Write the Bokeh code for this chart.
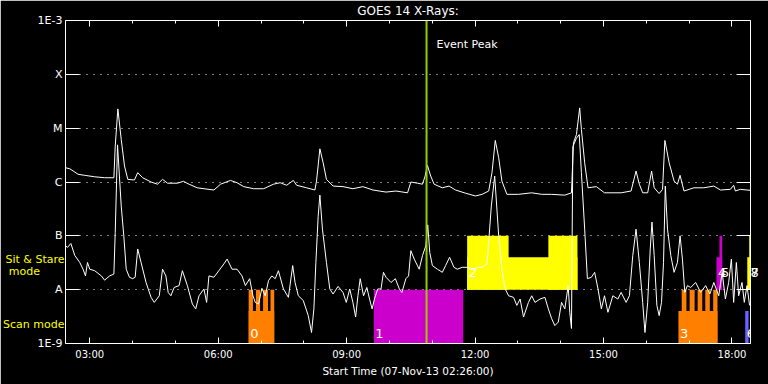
from bokeh.plotting import figure
from bokeh.models import (FixedTicker, LinearAxis, LogAxis, Label, Span,
                          ColumnDataSource, Range1d)
from bokeh.embed import file_html
from bokeh.resources import INLINE
from bokeh.core.properties import value

# ---------------- data ----------------
title_text = "GOES 14 X-Rays:"
x_title = "Start Time (07-Nov-13 02:26:00)"

# minutes after 02:26:00, flux in W/m^2 (1-8 A channel)
t_long = [0, 6.1, 17.7, 27.0, 40.9, 54.8, 67.8, 69.7, 73.4, 78.1, 82.7, 87.3, 96.6, 101.2,
          108.2, 119.9, 129.0, 136.0, 143.0, 156.9, 165.2, 173.2, 184.7, 194.0, 208.0,
          217.3, 231.2, 240.4, 249.7, 263.6, 277.6, 291.5, 300.8, 310.0, 319.3, 323.9,
          337.8, 349.5, 351.8, 356.5, 361.1, 365.7, 375.0, 388.9, 402.8, 416.8, 430.7,
          449.2, 463.1, 479.4, 484.0, 493.3, 500.3, 504.0, 507.2, 511.8, 516.6, 528.1,
          537.5, 546.6, 560.6, 574.5, 583.8, 593.1, 597.7, 602.3, 607.1, 611.6, 618.6,
          634.9, 653.4, 667.4, 681.3, 699.8, 709.1, 711.9, 716.1, 720.6, 723.0, 727.6,
          732.3, 743.9, 755.4, 778.7, 792.6, 799.6, 804.2, 808.9, 815.9, 821.4, 825.0,
          832.0, 836.7, 840.0, 846.0, 852.9, 857.6, 861.3, 866.8, 880.7, 894.6, 908.6,
          917.9, 931.8, 936.4, 938.8, 945.7, 959.7]
flux_long = [1.84e-6, 1.76e-6, 1.39e-6, 1.33e-6, 1.25e-6, 1.20e-6, 1.20e-6, 4.64e-6, 2.28e-5,
             6.18e-6, 1.98e-6, 1.12e-6, 1.09e-6, 1.49e-6, 1.20e-6, 1.00e-6, 9.1e-7, 1.12e-6,
             9.5e-7, 9.5e-7, 1.03e-6, 9.1e-7, 7.8e-7, 7.5e-7, 7.1e-7, 9.1e-7, 1.07e-6, 9.7e-7,
             8.2e-7, 7.5e-7, 7.5e-7, 9.1e-7, 9.7e-7, 8.7e-7, 1.07e-6, 8.7e-7, 7.8e-7, 7.1e-7,
             1.04e-6, 4.14e-6, 2.27e-6, 1.12e-6, 8.4e-7, 8.2e-7, 7.5e-7, 8.2e-7, 7.1e-7, 6.5e-7,
             6.8e-7, 6.3e-7, 1.0e-6, 9.5e-7, 9.1e-7, 1.29e-6, 2.04e-6, 1.29e-6, 9.1e-7, 7.8e-7,
             8.4e-7, 7.1e-7, 6.2e-7, 5.5e-7, 5.9e-7, 6.8e-7, 1.49e-6, 5.91e-6, 2.82e-6, 1.04e-6,
             5.9e-7, 5.9e-7, 6.3e-7, 5.9e-7, 5.9e-7, 5.7e-7, 6.3e-7, 5.35e-6, 7.64e-6, 2.38e-5,
             9.46e-6, 2.27e-6, 7.8e-7, 8.2e-7, 6.3e-7, 6.3e-7, 6.8e-7, 1.6e-6, 9.1e-7, 6.3e-7,
             6.3e-7, 1.6e-6, 7.8e-7, 6.1e-7, 7.3e-7, 5.91e-6, 2.27e-6, 1.04e-6, 9.1e-7, 1.33e-6,
             6.8e-7, 7.8e-7, 7.8e-7, 8.4e-7, 7.1e-7, 7.3e-7, 8.7e-7, 6.8e-7, 7.3e-7, 7.0e-7]

# minutes after 02:26:00, flux in W/m^2 (0.5-4 A channel)
t_short = [0, 2.9, 7.5, 13.1, 20.0, 24.6, 28.0, 30.8, 34.0, 40.9, 50.3, 54.8, 61.8, 67.8,
           69.7, 72.9, 78.1, 81.7, 85.1, 89.6, 94.2, 97.6, 101.2, 105.9, 112.9, 119.9, 124.4,
           131.4, 136.0, 140.7, 143.9, 147.7, 152.3, 159.2, 163.8, 170.8, 177.8, 182.5, 187.1,
           194.0, 197.8, 201.0, 208.0, 214.9, 221.9, 226.5, 233.4, 240.4, 247.4, 252.1, 258.1,
           262.7, 266.0, 270.6, 275.2, 279.9, 284.5, 289.1, 293.9, 298.4, 305.4, 312.4, 318.4,
           321.7, 326.3, 333.2, 340.2, 344.8, 348.1, 350.9, 354.1, 356.5, 360.1, 365.7, 370.4,
           375.0, 382.0, 388.9, 393.5, 398.3, 402.8, 406.6, 409.8, 413.0, 417.7, 422.3, 426.1,
           429.7, 433.0, 437.6, 442.2, 445.6, 449.2, 456.2, 462.3, 467.9, 471.5, 477.0, 480.8,
           484.0, 488.7, 495.7, 500.3, 504.9, 507.7, 510.5, 514.2, 521.2, 528.1, 532.7, 538.3,
           544.4, 549.0, 556.0, 562.9, 569.9, 579.2, 583.8, 590.8, 596.8, 601.5, 607.1, 611.6,
           616.2, 621.0, 627.9, 632.5, 637.1, 641.9, 648.8, 653.4, 658.0, 665.0, 671.9, 676.7,
           681.3, 685.8, 690.6, 695.2, 699.8, 704.5, 706.7, 709.1, 711.0, 716.0, 720.0, 723.0,
           727.6, 731.4, 737.0, 741.6, 746.3, 751.0, 755.4, 760.2, 767.1, 774.1, 778.7, 785.7,
           790.3, 795.0, 799.6, 804.2, 808.9, 812.1, 815.9, 819.5, 821.9, 825.0, 828.8, 832.0,
           835.3, 838.1, 840.6, 843.7, 848.3, 852.9, 857.6, 861.3, 864.6, 867.9, 871.6, 876.2,
           883.2, 890.1, 897.1, 903.0, 908.6, 915.5, 920.3, 924.8, 929.4, 933.2, 936.4, 940.2,
           943.4, 948.1, 951.3, 955.1, 958.7]
flux_short = [6.5e-8, 6.1e-8, 7.2e-8, 4.3e-8, 3.2e-8, 2.4e-8, 1.8e-8, 3.2e-8, 2.4e-8, 2.25e-8,
              1.8e-8, 1.5e-8, 1.8e-8, 1.95e-8, 1.15e-7, 4.9e-6, 3.6e-7, 1.0e-7, 2.4e-8, 1.7e-8,
              1.6e-8, 1.7e-8, 5.7e-8, 3.2e-8, 1.36e-8, 7.2e-9, 5.8e-9, 7.7e-9, 2.4e-8, 1.8e-8,
              8.9e-9, 7.7e-9, 1.1e-8, 1.19e-8, 2.25e-8, 1.19e-8, 5.4e-9, 4.4e-9, 7.7e-9, 1.03e-8,
              5.8e-9, 1.8e-8, 1.7e-8, 2.25e-8, 3.0e-8, 3.7e-8, 2.4e-8, 2.4e-8, 1.8e-8, 1.19e-8,
              1.6e-8, 7.7e-9, 5.8e-9, 5.4e-9, 1.06e-8, 7.7e-9, 1.47e-8, 1.8e-8, 1.6e-8, 2.25e-8,
              1.03e-8, 7.2e-9, 2.8e-8, 1.36e-8, 7.7e-9, 6.3e-9, 3.3e-9, 1.6e-9, 4.4e-9, 3.2e-8,
              2.3e-7, 5.7e-7, 1.33e-7, 3.2e-8, 1.03e-8, 8.3e-9, 1.15e-8, 8.9e-9, 5.8e-9, 1.03e-8,
              5.8e-9, 3.1e-9, 7.7e-9, 1.6e-8, 7.7e-9, 1.1e-8, 6.7e-9, 4.4e-9, 6.7e-9, 1.03e-8,
              1.03e-8, 2.1e-8, 1.7e-8, 1.36e-8, 1.6e-8, 1.03e-8, 8.9e-9, 1.6e-8, 1.8e-8, 5.3e-8,
              3.7e-8, 2.4e-8, 4.3e-8, 6.5e-8, 1.6e-7, 4.9e-8, 2.8e-8, 2.4e-8, 2.1e-8, 2.8e-8,
              4.0e-8, 2.6e-8, 2.4e-8, 2.6e-8, 2.6e-8, 2.4e-8, 2.6e-8, 2.6e-8, 3.0e-8, 3.6e-7,
              1.29e-6, 1.0e-7, 2.4e-8, 1.03e-8, 7.7e-9, 7.2e-9, 5.1e-9, 6.7e-9, 3.1e-9, 5.8e-9,
              7.7e-9, 5.8e-9, 6.7e-9, 7.2e-9, 4.4e-9, 2.9e-9, 2.15e-9, 2.5e-9, 5.8e-9, 4.4e-9,
              1.19e-8, 3.8e-9, 1.9e-9, 4.5e-6, 6.5e-6, 7.6e-6, 1.49e-6, 1.33e-7, 1.6e-8, 1.7e-8,
              2.1e-8, 1.03e-8, 4.4e-9, 7.7e-9, 3.8e-9, 7.7e-9, 6.7e-9, 8.9e-9, 5.8e-9, 7.7e-9,
              4.3e-8, 1.33e-7, 3.2e-8, 5.8e-9, 1.6e-9, 5.8e-9, 5.7e-8, 1.8e-7, 4.3e-8, 5.1e-9,
              3.3e-9, 5.8e-9, 3.2e-8, 8.4e-7, 1.33e-7, 4.3e-8, 2.1e-8, 3.2e-8, 1.0e-7, 3.7e-8,
              8.9e-9, 1.19e-8, 1.1e-8, 1.36e-8, 8.9e-9, 1.19e-8, 8.3e-9, 1.36e-8, 7.7e-9, 2.1e-8,
              6.7e-9, 1.36e-8, 3.7e-8, 5.8e-9, 3.2e-8, 7.7e-9, 1.36e-8, 5.8e-9, 1.19e-8, 5.1e-9]

x_tick_min = [34, 214, 394, 574, 754, 934]
x_tick_labels = ["03:00", "06:00", "09:00", "12:00", "15:00", "18:00"]
x_minor_min = [94, 154, 274, 334, 454, 514, 634, 694, 814, 874]
y_tick_flux = [1e-9, 1e-8, 1e-7, 1e-6, 1e-5, 1e-4, 1e-3]
y_tick_labels = ["1E-9", "A", "B", "C", "M", "X", "1E-3"]
y_grid_flux = [1e-8, 1e-7, 1e-6, 1e-5, 1e-4]
event_peak_min = 506
event_label = "Event Peak"

# observation blocks (numbered), mode: scan / sit & stare
block_names = ["0", "1", "2", "3", "4", "5", "6", "7", "8"]
block_mode = ["scan", "scan", "sit", "scan", "sit", "sit", "scan", "sit", "sit"]
# segments of each block: kind "part" = lower part of the band, "full" = whole band
seg_block = [0, 0, 0, 0, 0, 1, 2, 2, 2, 3, 3, 3, 3, 3, 3, 4, 5, 6, 7, 8]
seg_start = [256.7, 256.7, 266.9, 276.9, 287.3, 432.1, 562.9, 562.9, 676.7, 859.0, 863.6,
             874.7, 885.9, 896.6, 907.7, 912.3, 916.5, 952.6, 955.5, 958.2]
seg_end = [292.5, 262.7, 272.7, 283.8, 292.5, 557.4, 717.5, 621.0, 717.5, 913.7, 870.2,
           881.7, 892.4, 903.0, 913.7, 920.3, 920.3, 957.3, 960.0, 960.0]
seg_kind = ["part", "full", "full", "full", "full", "full", "part", "full", "full", "part",
            "full", "full", "full", "full", "full", "part", "full", "part", "part", "full"]

mode_labels = ["Sit & Stare", "mode" + "\u00a0" * 7, "Scan mode"]

# ---------------- styles ----------------
FONT = "DejaVu Sans"
block_colors = ["#ff8000", "#cc00cc", "#ffff00", "#ff8000", "#cc00cc", "#cc00cc",
                "#6464ff", "#ffff00", "#ffff00"]
band = {"scan": (1e-9, 1e-8), "sit": (1e-8, 1e-7)}
label_dy = {"scan": -10, "sit": -17}
mode_label_y = [3.6e-8, 2.18e-8, 2.25e-9]
edge_label_y = 2.1e-8

p = figure(width=768, height=384, x_range=Range1d(0, 960), y_range=Range1d(1e-9, 1e-3),
           y_axis_type="log", output_backend="svg", toolbar_location=None,
           min_border_left=60, min_border_right=18, min_border_top=19, min_border_bottom=41,
           background_fill_color="black", border_fill_color="black", outline_line_color=None)

# axes
xa = p.xaxis[0]
xa.ticker = FixedTicker(ticks=x_tick_min, minor_ticks=x_minor_min)
xa.major_label_overrides = dict(zip(x_tick_min, x_tick_labels))
xa.axis_label = x_title
ya = p.yaxis[0]
ya.ticker = FixedTicker(ticks=y_tick_flux)
ya.major_label_overrides = dict(zip(y_tick_flux, y_tick_labels))

top = LinearAxis(ticker=FixedTicker(ticks=x_tick_min, minor_ticks=x_minor_min),
                 major_label_overrides={t: "" for t in x_tick_min}, axis_label=title_text)
right = LogAxis(ticker=FixedTicker(ticks=y_tick_flux),
                major_label_overrides={t: "" for t in y_tick_flux})
p.add_layout(top, "above")
p.add_layout(right, "right")

for ax in (xa, top):
    ax.major_tick_in = 6
    ax.major_tick_out = 0
    ax.minor_tick_in = 3
    ax.minor_tick_out = 0
for ax in (ya, right):
    ax.major_tick_in = 14
    ax.major_tick_out = 0
    ax.minor_tick_in = 0
    ax.minor_tick_out = 0
for ax in (xa, ya, top, right):
    ax.axis_line_color = "white"
    ax.major_tick_line_color = "white"
    ax.minor_tick_line_color = "white"
    ax.major_label_text_color = "white"
    ax.major_label_text_font = FONT
    ax.major_label_text_font_size = "11px"
    ax.axis_label_text_color = "white"
    ax.axis_label_text_font = FONT
    ax.axis_label_text_font_style = "normal"
    ax.axis_label_text_font_size = "10.5px"
xa.major_label_text_font_size = "10px"
for ax in (top, right):
    ax.major_label_text_font_size = "0px"
    ax.major_label_standoff = 0
top.axis_label_text_font_size = "12px"
top.axis_label_standoff = 3
xa.major_label_standoff = 5
xa.axis_label_standoff = 2
ya.major_label_standoff = 3

# yellow mode labels in the left margin (label-only axis)
mode_ax = LogAxis(ticker=FixedTicker(ticks=mode_label_y),
                  major_label_overrides=dict(zip(mode_label_y, mode_labels)),
                  axis_line_color=None, major_tick_line_color=None, minor_tick_line_color=None,
                  major_tick_in=0, major_tick_out=0, minor_tick_in=0, minor_tick_out=0,
                  major_label_text_color="#ffff00", major_label_text_font=FONT,
                  major_label_text_font_size="11px", major_label_standoff=-30)
p.add_layout(mode_ax, "left")

# labels of the last blocks, which sit on the right edge of the frame
edge_ax = LogAxis(ticker=FixedTicker(ticks=[edge_label_y, edge_label_y * 1.001]),
                  major_label_overrides={edge_label_y: block_names[7],
                                         edge_label_y * 1.001: block_names[8]},
                  axis_line_color=None, major_tick_line_color=None, minor_tick_line_color=None,
                  major_tick_in=0, major_tick_out=0, minor_tick_in=0, minor_tick_out=0,
                  major_label_text_color="white", major_label_text_font=FONT,
                  major_label_text_font_size="13px", major_label_standoff=0)
p.add_layout(edge_ax, "right")

p.xgrid.visible = False
p.ygrid.ticker = FixedTicker(ticks=y_grid_flux)
p.ygrid.grid_line_color = "white"
p.ygrid.grid_line_dash = "1 6"
p.ygrid.grid_line_width = 1

# observation blocks
qs = dict(left=[], right=[], bottom=[], top=[], color=[])
for b, s, e, k in zip(seg_block, seg_start, seg_end, seg_kind):
    lo, hi = band[block_mode[b]]
    qs["left"].append(s)
    qs["right"].append(e)
    qs["bottom"].append(lo)
    qs["top"].append(hi if k == "full" else lo * 4.0)
    qs["color"].append(block_colors[b])
p.quad(left="left", right="right", bottom="bottom", top="top", color="color",
       line_color=None, source=ColumnDataSource(qs))

# block labels
lab = dict(x=[], y=[], text=[], dy=[])
for i, name in enumerate(block_names[:7]):
    starts = [s for b, s in zip(seg_block, seg_start) if b == i]
    lab["x"].append(min(starts))
    lab["y"].append(band[block_mode[i]][0])
    lab["text"].append(name)
    lab["dy"].append(label_dy[block_mode[i]])
p.text(x="x", y="y", text="text", y_offset="dy", x_offset=1.5, source=ColumnDataSource(lab),
       text_color="white", text_font=value(FONT), text_font_size="13px",
       text_baseline="middle", text_align="left")

# curves
p.line(t_long, flux_long, line_color="white", line_width=1)
p.line(t_short, flux_short, line_color="white", line_width=1)

# event peak
p.add_layout(Span(location=event_peak_min, dimension="height", line_color="#99cc00",
                  line_width=2))
p.add_layout(Label(x=event_peak_min, y=3.6e-4, x_offset=10, text=event_label,
                   text_color="white", text_font=FONT, text_font_size="11px",
                   text_baseline="middle"))

open("out.html", "w").write(file_html(p, INLINE))
